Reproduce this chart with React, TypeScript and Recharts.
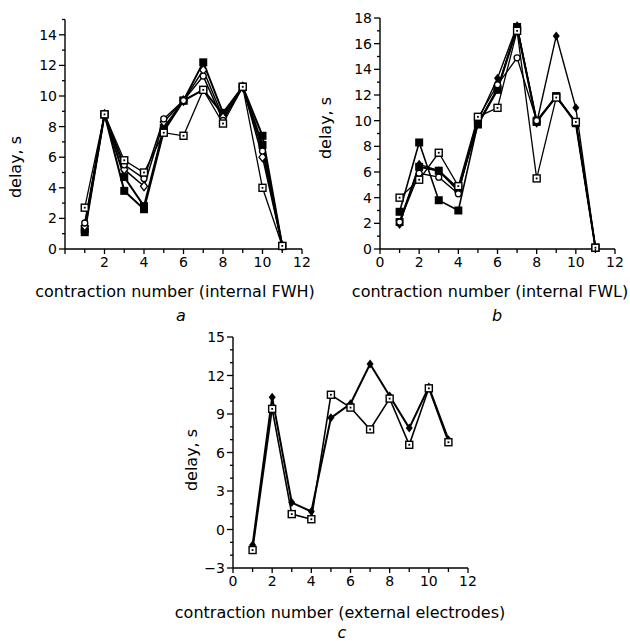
import { LineChart, Line, XAxis, YAxis } from 'recharts';

// contraction index shared by all three panels
const contraction = [1, 2, 3, 4, 5, 6, 7, 8, 9, 10, 11];

// panel a: internal FWH
const fwhOpenSquare = [2.7, 8.8, 5.8, 5.0, 7.6, 7.4, 10.4, 8.2, 10.6, 4.0, 0.2];
const fwhOpenCircle = [1.7, 8.8, 5.5, 4.6, 8.5, 9.7, 11.3, 8.4, 10.6, 6.4, 0.2];
const fwhOpenDiamond = [1.5, 8.8, 5.2, 4.1, 8.3, 9.7, 11.7, 8.6, 10.6, 6.0, 0.2];
const fwhFilledSquare = [1.3, 8.8, 4.7, 2.8, 7.9, 9.7, 12.2, 8.9, 10.6, 7.4, 0.2];
const fwhFilledSquare2 = [1.1, 8.8, 3.8, 2.6, 7.7, 9.7, 10.4, 8.8, 10.6, 6.8, 0.2];

// panel b: internal FWL
const fwlOpenSquare = [4.0, 5.4, 7.5, 4.9, 10.3, 11.0, 17.0, 5.5, 11.8, 9.9, 0.1];
const fwlFilledSquare = [2.9, 8.3, 3.8, 3.0, 9.8, 12.5, 17.3, 10.0, 11.9, 9.9, 0.1];
const fwlOpenCircle = [2.1, 5.9, 5.6, 4.3, 10.2, 12.8, 14.9, 10.0, 11.8, 9.9, 0.1];
const fwlFilledDiamond = [1.9, 6.6, 6.1, 4.5, 10.0, 13.3, 17.4, 9.8, 16.6, 11.0, 0.1];
const fwlFilledSquare2 = [2.1, 6.4, 6.1, 4.7, 9.7, 12.4, 17.2, 9.9, 11.9, 9.8, 0.1];

// panel c: external electrodes
const extFilledDiamond = [-1.2, 10.3, 2.1, 1.4, 8.7, 9.8, 12.9, 10.4, 7.9, 11.1, 7.0];
const extOpenSquare = [-1.6, 9.4, 1.2, 0.8, 10.5, 9.5, 7.8, 10.2, 6.6, 11.0, 6.8];

// ticks
const xTicks = [0, 1, 2, 3, 4, 5, 6, 7, 8, 9, 10, 11, 12];
const yTicksA = [0, 1, 2, 3, 4, 5, 6, 7, 8, 9, 10, 11, 12, 13, 14, 15];
const yTicksB = [0, 1, 2, 3, 4, 5, 6, 7, 8, 9, 10, 11, 12, 13, 14, 15, 16, 17, 18];
const yTicksC = [-3, -2, -1, 0, 1, 2, 3, 4, 5, 6, 7, 8, 9, 10, 11, 12, 13, 14, 15];

const fwhRows = contraction.map((n, i) => ({
  n,
  s1: fwhOpenSquare[i],
  s2: fwhOpenCircle[i],
  s3: fwhOpenDiamond[i],
  s4: fwhFilledSquare[i],
  s5: fwhFilledSquare2[i],
}));

const fwlRows = contraction.map((n, i) => ({
  n,
  s1: fwlOpenSquare[i],
  s2: fwlFilledSquare[i],
  s3: fwlOpenCircle[i],
  s4: fwlFilledDiamond[i],
  s5: fwlFilledSquare2[i],
}));

const extRows = contraction.map((n, i) => ({
  n,
  s1: extFilledDiamond[i],
  s2: extOpenSquare[i],
}));

const INK = '#000';
const FONT = '"DejaVu Sans", sans-serif';

type Kind = 'openSquare' | 'filledSquare' | 'openCircle' | 'openDiamond' | 'filledDiamond';

function Marker({ cx, cy, kind }: { cx?: number; cy?: number; kind: Kind }) {
  if (cx == null || cy == null) return null;
  if (kind === 'openSquare') {
    return (
      <g>
        <rect x={cx - 3.5} y={cy - 3.5} width={7} height={7} fill="#fff" stroke={INK} strokeWidth={1.4} />
        <rect x={cx - 0.9} y={cy - 0.9} width={1.8} height={1.8} fill={INK} />
      </g>
    );
  }
  if (kind === 'filledSquare') {
    return <rect x={cx - 4} y={cy - 4} width={8} height={8} fill={INK} />;
  }
  if (kind === 'openCircle') {
    return <circle cx={cx} cy={cy} r={3} fill="#fff" stroke={INK} strokeWidth={1.3} />;
  }
  const d = `M${cx},${cy - 4.5} L${cx + 3.5},${cy} L${cx},${cy + 4.5} L${cx - 3.5},${cy} Z`;
  if (kind === 'openDiamond') {
    return <path d={d} fill="#fff" stroke={INK} strokeWidth={1.3} />;
  }
  return <path d={d} fill={INK} />;
}

const dotOf = (kind: Kind) => (p: any) => <Marker key={p.index} cx={p.cx} cy={p.cy} kind={kind} />;

const XTick = (props: any) => {
  const { x, y, payload, showZero } = props;
  const v = payload.value as number;
  const major = v % 2 === 0;
  return (
    <g>
      <line x1={x} x2={x} y1={y} y2={y + (major ? 5 : 4)} stroke={INK} strokeWidth={1.3} />
      {major && (v !== 0 || showZero) && (
        <text x={x} y={y + 18} textAnchor="middle" fill={INK} fontSize={14} fontFamily={FONT}>
          {v}
        </text>
      )}
    </g>
  );
};

const YTick = (props: any) => {
  const { x, y, payload, step } = props;
  const v = payload.value as number;
  const major = v % step === 0;
  return (
    <g>
      <line x1={x} x2={x - (major ? 6 : 3)} y1={y} y2={y} stroke={INK} strokeWidth={1.3} />
      {major && (
        <text x={x - 8} y={y} dy="0.36em" textAnchor="end" fill={INK} fontSize={14} fontFamily={FONT}>
          {v < 0 ? `\u2212${Math.abs(v)}` : v}
        </text>
      )}
    </g>
  );
};

export default function App() {
  const lineProps = { type: 'linear' as const, stroke: INK, isAnimationActive: false, activeDot: false };
  return (
    <div style={{ position: 'absolute', left: 0, top: 0, width: 630, height: 641, background: '#fff', overflow: 'hidden' }}>
      {/* panel a */}
      <div style={{ position: 'absolute', left: 0, top: 0 }}>
        <LineChart width={320} height={300} data={fwhRows} margin={{ top: 19.5, right: 18, bottom: 21, left: 25 }}>
          <XAxis dataKey="n" type="number" domain={[0, 12]} ticks={xTicks} interval={0} tickSize={0} tickMargin={0}
            stroke={INK} strokeWidth={1.4} tick={<XTick showZero={false} />} height={30} />
          <YAxis type="number" domain={[0, 15]} ticks={yTicksA} interval={0} tickSize={0} tickMargin={0}
            stroke={INK} strokeWidth={1.4} tick={<YTick step={2} />} width={40} />
          <Line {...lineProps} dataKey="s5" strokeWidth={2} dot={dotOf('filledSquare')} />
          <Line {...lineProps} dataKey="s4" strokeWidth={2} dot={dotOf('filledSquare')} />
          <Line {...lineProps} dataKey="s3" strokeWidth={1.5} dot={dotOf('openDiamond')} />
          <Line {...lineProps} dataKey="s2" strokeWidth={1.5} dot={dotOf('openCircle')} />
          <Line {...lineProps} dataKey="s1" strokeWidth={1.3} dot={dotOf('openSquare')} />
        </LineChart>
      </div>

      {/* panel b */}
      <div style={{ position: 'absolute', left: 320, top: 0 }}>
        <LineChart width={310} height={300} data={fwlRows} margin={{ top: 18, right: 15, bottom: 21, left: 20 }}>
          <XAxis dataKey="n" type="number" domain={[0, 12]} ticks={xTicks} interval={0} tickSize={0} tickMargin={0}
            stroke={INK} strokeWidth={1.4} tick={<XTick showZero={true} />} height={30} />
          <YAxis type="number" domain={[0, 18]} ticks={yTicksB} interval={0} tickSize={0} tickMargin={0}
            stroke={INK} strokeWidth={1.4} tick={<YTick step={2} />} width={40} />
          <Line {...lineProps} dataKey="s5" strokeWidth={2} dot={dotOf('filledSquare')} />
          <Line {...lineProps} dataKey="s4" strokeWidth={1.4} dot={dotOf('filledDiamond')} />
          <Line {...lineProps} dataKey="s2" strokeWidth={1.6} dot={dotOf('filledSquare')} />
          <Line {...lineProps} dataKey="s3" strokeWidth={1.3} dot={dotOf('openCircle')} />
          <Line {...lineProps} dataKey="s1" strokeWidth={1.3} dot={dotOf('openSquare')} />
        </LineChart>
      </div>

      {/* panel c */}
      <div style={{ position: 'absolute', left: 150, top: 300 }}>
        <LineChart width={340} height={300} data={extRows} margin={{ top: 37, right: 22, bottom: 2, left: 43 }}>
          <XAxis dataKey="n" type="number" domain={[0, 12]} ticks={xTicks} interval={0} tickSize={0} tickMargin={0}
            stroke={INK} strokeWidth={1.4} tick={<XTick showZero={true} />} height={30} />
          <YAxis type="number" domain={[-3, 15]} ticks={yTicksC} interval={0} tickSize={0} tickMargin={0}
            stroke={INK} strokeWidth={1.4} tick={<YTick step={3} />} width={40} />
          <Line {...lineProps} dataKey="s1" strokeWidth={2} dot={dotOf('filledDiamond')} />
          <Line {...lineProps} dataKey="s2" strokeWidth={1.6} dot={dotOf('openSquare')} />
        </LineChart>
      </div>

      {/* titles and panel letters */}
      <svg width={630} height={641} style={{ position: 'absolute', left: 0, top: 0, pointerEvents: 'none' }}>
        <g fill={INK} fontFamily={FONT} fontSize={16} textAnchor="middle">
          <text x={175} y={297}>contraction number (internal FWH)</text>
          <text x={490} y={297}>contraction number (internal FWL)</text>
          <text x={340} y={618}>contraction number (external electrodes)</text>
          <text transform="translate(21,167) rotate(-90)">delay, s</text>
          <text transform="translate(331,128) rotate(-90)">delay, s</text>
          <text transform="translate(197,460) rotate(-90)">delay, s</text>
          <text x={181} y={321} fontStyle="italic">a</text>
          <text x={497} y={321} fontStyle="italic">b</text>
          <text x={342} y={638} fontStyle="italic">c</text>
        </g>
      </svg>
    </div>
  );
}
